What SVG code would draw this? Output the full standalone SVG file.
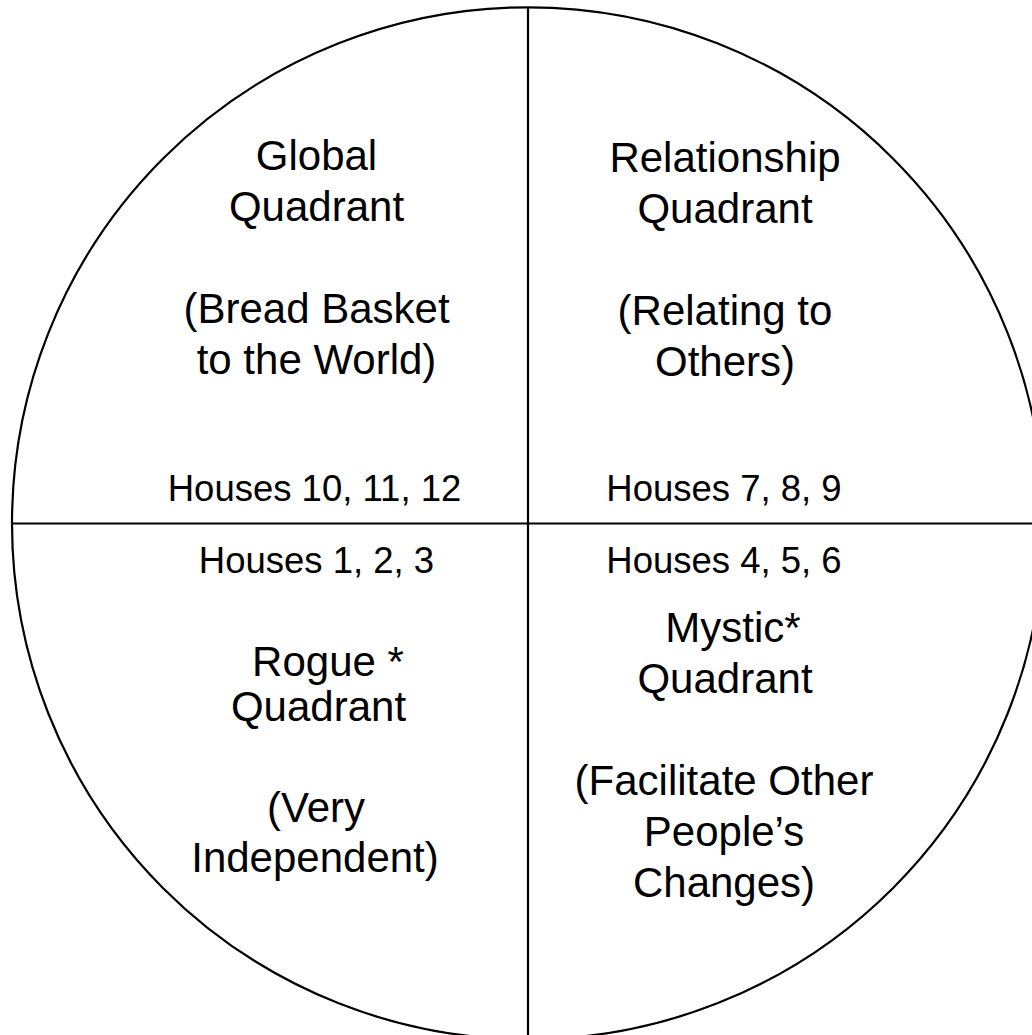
<svg xmlns="http://www.w3.org/2000/svg" width="1032" height="1035" viewBox="0 0 1032 1035">
<style>
.ln{stroke:#000;stroke-width:2.2;fill:none}
.big{font-family:"Liberation Sans",Arial,sans-serif;font-size:42px;fill:#000;text-anchor:middle}
.sm{font-family:"Liberation Sans",Arial,sans-serif;font-size:36.5px;fill:#000;text-anchor:middle}
</style>
<rect width="1032" height="1035" fill="#fff"/>
<g id="connectors">
<circle class="ln" cx="528" cy="523.3" r="516"/>
<line class="ln" x1="528" y1="7" x2="528" y2="1035"/>
<line class="ln" x1="13" y1="523.5" x2="1032" y2="523.5"/>
</g>
<g id="global">
<text class="big" x="316.5" y="170">Global</text>
<text class="big" x="316.5" y="221">Quadrant</text>
<text class="big" x="316.5" y="323">(Bread Basket</text>
<text class="big" x="316.5" y="374">to the World)</text>
<text class="sm" x="314.5" y="501">Houses 10, 11, 12</text>
</g>
<g id="relationship">
<text class="big" x="725" y="172">Relationship</text>
<text class="big" x="725" y="223">Quadrant</text>
<text class="big" x="725" y="325">(Relating to</text>
<text class="big" x="725" y="376">Others)</text>
<text class="sm" x="724" y="501">Houses 7, 8, 9</text>
</g>
<g id="rogue">
<text class="sm" x="316.5" y="573">Houses 1, 2, 3</text>
<text class="big" x="328" y="676">Rogue *</text>
<text class="big" x="318.5" y="721">Quadrant</text>
<text class="big" x="316" y="822">(Very</text>
<text class="big" x="315" y="872">Independent)</text>
</g>
<g id="mystic">
<text class="sm" x="724" y="573">Houses 4, 5, 6</text>
<text class="big" x="733" y="642">Mystic*</text>
<text class="big" x="725" y="693">Quadrant</text>
<text class="big" x="724" y="795">(Facilitate Other</text>
<text class="big" x="724" y="846">People’s</text>
<text class="big" x="724" y="897">Changes)</text>
</g>
</svg>
